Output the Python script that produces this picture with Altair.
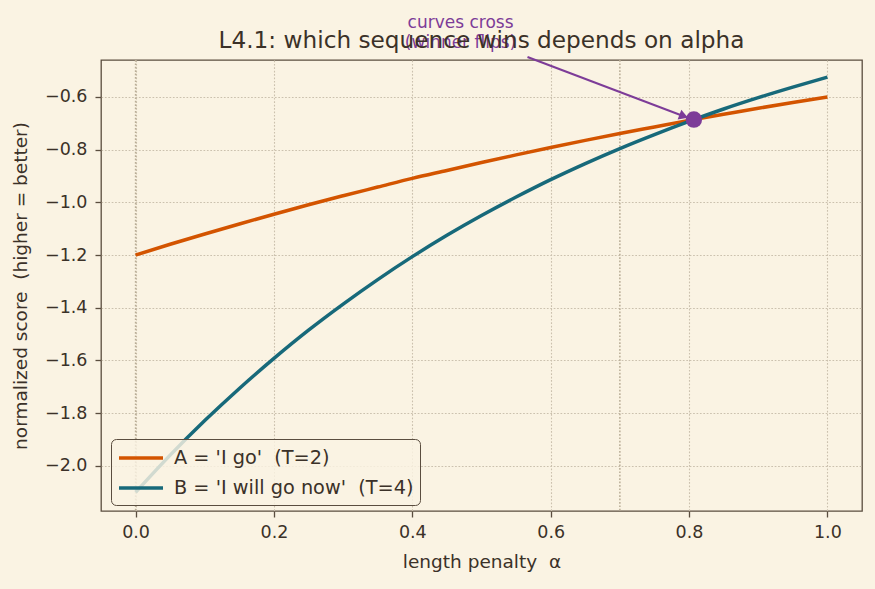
import altair as alt
import pandas as pd

# ---- data ----
alpha = [0.0, 0.05, 0.1, 0.15, 0.2, 0.25, 0.3, 0.35, 0.4, 0.45, 0.5,
         0.55, 0.6, 0.65, 0.7, 0.75, 0.8, 0.85, 0.9, 0.95, 1.0]
score_a = [-1.200, -1.159, -1.120, -1.082, -1.045, -1.009, -0.975, -0.942, -0.909, -0.879, -0.849,
           -0.820, -0.792, -0.765, -0.739, -0.714, -0.689, -0.666, -0.643, -0.621, -0.600]
score_b = [-2.100, -1.959, -1.828, -1.706, -1.592, -1.485, -1.386, -1.293, -1.206, -1.125, -1.050,
           -0.980, -0.914, -0.853, -0.796, -0.743, -0.693, -0.646, -0.603, -0.563, -0.525]
series_labels = ["A = 'I go'\u00a0 (T=2)", "B = 'I will go now'\u00a0 (T=4)"]
series_colors = ["#d35400", "#17697a"]
cross_alpha = [0.807]
cross_score = [-0.686]
marker_alpha = [0.0, 0.7]
x_ticks = [0.0, 0.2, 0.4, 0.6, 0.8, 1.0]
y_ticks = [-2.0, -1.8, -1.6, -1.4, -1.2, -1.0, -0.8, -0.6]
note_lines = ["curves cross", "(winner flips)"]
note_alpha = [0.4697, 0.4697]
note_score = [-0.3210, -0.3960]
arrow_alpha = [0.5665, 0.7991]
arrow_score = [-0.4486, -0.680]
head_alpha = [0.7923]
head_score = [-0.6732]

BG = "#faf3e3"
INK = "#3b3128"
FRAME = "#5a4d3f"
PURPLE = "#7d3c98"
FONT = "DejaVu Sans"

rows = []
for lab, vals in zip(series_labels, [score_a, score_b]):
    for a, s in zip(alpha, vals):
        rows.append({"alpha": a, "score": s, "series": lab})
df = pd.DataFrame(rows)

xs = alt.Scale(domain=[-0.05, 1.05], nice=False, zero=False)
ys = alt.Scale(domain=[-2.171, -0.46], nice=False, zero=False)
xa = alt.Axis(values=x_ticks, format=".1f", title="length penalty\u00a0 α", titlePadding=12)
ya = alt.Axis(values=y_ticks, format=".1f",
              title="normalized score\u00a0 (higher = better)", titlePadding=14)
X = alt.X("alpha:Q", scale=xs, axis=xa)
Y = alt.Y("score:Q", scale=ys, axis=ya)

vlines = alt.Chart(pd.DataFrame({"alpha": marker_alpha})).mark_rule(
    color="#b9ad96", strokeDash=[1.7, 1.7], strokeWidth=1.5
).encode(x=X)

lines = alt.Chart(df).mark_line(strokeWidth=3.5, interpolate="monotone").encode(
    x=X, y=Y,
    color=alt.Color("series:N", scale=alt.Scale(domain=series_labels, range=series_colors),
                    legend=alt.Legend(title=None, orient="none", legendX=10, legendY=379)),
    order=alt.Order("alpha:Q"),
)

point = alt.Chart(pd.DataFrame({"alpha": cross_alpha, "score": cross_score})).mark_circle(
    size=270, color=PURPLE, opacity=1
).encode(x=X, y=Y)

arrow = alt.Chart(pd.DataFrame({"alpha": arrow_alpha, "score": arrow_score})).mark_line(
    color=PURPLE, strokeWidth=2
).encode(x=X, y=Y)

head = alt.Chart(pd.DataFrame({"alpha": head_alpha, "score": head_score})).mark_point(
    shape="triangle-right", size=110, filled=True, color=PURPLE, opacity=1, angle=20.8
).encode(x=X, y=Y)

note = alt.Chart(pd.DataFrame({"alpha": note_alpha, "score": note_score, "t": note_lines})).mark_text(
    color=PURPLE, fontSize=17, font=FONT, align="center", baseline="middle"
).encode(x=X, y=Y, text="t:N")

chart = alt.layer(vlines, lines, point, arrow, head, note).properties(
    width=761, height=451,
    padding={"left": 101, "top": 60, "right": 13, "bottom": 78},
    autosize=alt.AutoSizeParams(type="none"),
    background=BG,
    title=alt.TitleParams("L4.1: which sequence wins depends on alpha", anchor="middle",
                          frame="group", offset=-57, baseline="alphabetic",
                          fontSize=23.2, font=FONT, fontWeight="normal", color=INK),
).configure_view(
    stroke=FRAME, strokeWidth=1.3, fill=BG
).configure_axis(
    labelFont=FONT, titleFont=FONT, labelFontSize=17.5, titleFontSize=18.5,
    labelColor=INK, titleColor=INK, titleFontWeight="normal",
    tickColor=FRAME, tickSize=6, tickWidth=1.3, domain=False,
    grid=True, gridColor="#cbc1ae", gridDash=[1.7, 1.7], gridWidth=1.1,
    labelPadding=6,
).configure_axisY(labelPadding=8).configure_legend(
    labelFont=FONT, labelFontSize=19.3, labelColor=INK, labelLimit=500,
    symbolType="M-1,0H3", symbolSize=484, symbolStrokeWidth=3.5,
    strokeColor=FRAME, fillColor="rgba(250,243,227,0.82)", cornerRadius=5,
    padding=6, rowPadding=6, labelOffset=31,
)

chart.save("out.html", embed_options={"renderer": "svg", "actions": False})
